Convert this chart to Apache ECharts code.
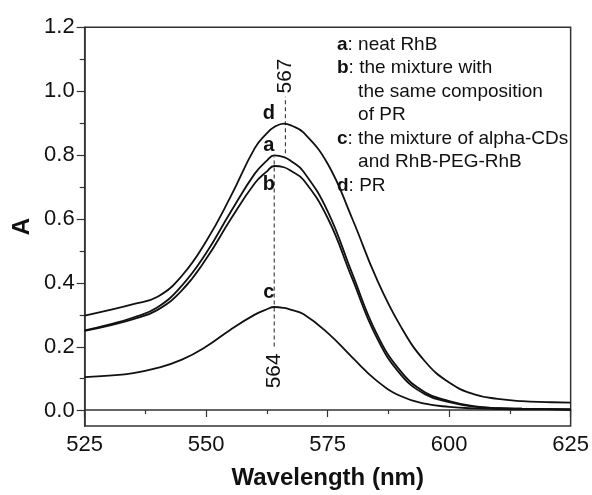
<!DOCTYPE html>
<html><head><meta charset="utf-8">
<script src="https://cdn.jsdelivr.net/npm/echarts@6/dist/echarts.min.js"></script>
<style>html,body{margin:0;padding:0;background:#fff}#c{width:592px;height:495px}</style>
</head><body><div id="c"></div>
<script>
// wavelength (nm)
const wavelengths = [525,530,535,540,545,550,555,560,562.5,564,566,567.5,570,575,580,585,590,595,600,605,610,615,620,625];
// a: neat RhB
const seriesA = [0.250,0.268,0.290,0.322,0.390,0.492,0.620,0.741,0.782,0.798,0.793,0.780,0.748,0.623,0.430,0.242,0.122,0.056,0.028,0.012,0.006,0.004,0.003,0.002];
// b: the mixture with the same composition of PR
const seriesB = [0.248,0.265,0.285,0.314,0.375,0.474,0.597,0.711,0.748,0.765,0.761,0.749,0.722,0.602,0.414,0.230,0.112,0.050,0.025,0.011,0.006,0.004,0.003,0.002];
// c: the mixture of alpha-CDs and RhB-PEG-RhB
const seriesC = [0.103,0.108,0.116,0.132,0.158,0.199,0.252,0.299,0.316,0.323,0.320,0.314,0.301,0.242,0.166,0.093,0.044,0.020,0.010,0.005,0.003,0.002,0.002,0.001];
// d: PR
const seriesD = [0.296,0.313,0.332,0.355,0.421,0.529,0.668,0.821,0.868,0.887,0.898,0.892,0.870,0.772,0.602,0.414,0.263,0.153,0.086,0.050,0.035,0.028,0.025,0.023];

// curve letters [label, wavelength, absorbance]
const curveLetters = [['d',562.9,0.931],['a',562.9,0.828],['b',562.9,0.706],['c',562.9,0.368]];
// peak marker lines [wavelength, from, to] and their labels [text, wavelength, absorbance]
const peakLines = [[564,0.199,0.794],[566.3,0.805,0.982]];
const peakLabels = [['564',564,0.123],['567',566.3,1.047]];

const xTicks = {min:525,max:625,interval:25};
const yTicks = {min:0,max:1.2,interval:0.2};
const yFrameMin = -0.05;

const legendLines = [
  ['a','neat RhB'],
  ['b','the mixture with'],
  [null,'the same composition'],
  [null,'of PR'],
  ['c','the mixture of alpha-CDs'],
  [null,'and RhB-PEG-RhB'],
  ['d','PR']
];

const FONT = '"Liberation Sans", Arial, Helvetica, sans-serif';
const INK = '#111';
const AX = '#333';

const legendText = legendLines.map(l => l[0] ? '{b|' + l[0] + '}: ' + l[1] : '    ' + l[1]).join('\n');

function curve(name, vals) {
  return {
    name, type: 'line', xAxisIndex: 1, yAxisIndex: 1,
    data: wavelengths.map((w, i) => [w, vals[i]]),
    showSymbol: false, symbol: 'none', smooth: 0.45,
    lineStyle: {color: INK, width: 1.8}, silent: true, z: 3
  };
}

const series = [
  curve('a', seriesA), curve('b', seriesB), curve('c', seriesC), curve('d', seriesD)
];
peakLines.forEach(p => {
  series.push({
    type: 'line', xAxisIndex: 1, yAxisIndex: 1,
    data: [[p[0], p[1]], [p[0], p[2]]],
    symbol: 'none', lineStyle: {color: '#333', width: 1.1, type: [4, 3]}, silent: true, z: 2
  });
});
series.push({
  type: 'scatter', xAxisIndex: 1, yAxisIndex: 1, symbolSize: 0, silent: true, z: 4,
  itemStyle: {opacity: 1},
  data: curveLetters.map(c => ({value: [c[1], c[2]], name: c[0]})),
  label: {show: true, position: 'inside', formatter: p => p.name, fontFamily: FONT,
    fontSize: 20, fontWeight: 'bold', color: INK, textBorderWidth: 0, opacity: 1}
});
series.push({
  type: 'scatter', xAxisIndex: 1, yAxisIndex: 1, symbolSize: 0, silent: true, z: 4,
  itemStyle: {opacity: 1},
  data: peakLabels.map(c => ({value: [c[1], c[2]], name: c[0]})),
  label: {show: true, position: 'inside', rotate: 90, formatter: p => p.name, fontFamily: FONT,
    fontSize: 21, color: INK, textBorderWidth: 0, opacity: 1}
});

const chart = echarts.init(document.getElementById('c'), null, {renderer: 'canvas'});
chart.setOption({
  animation: false,
  backgroundColor: '#fff',
  title: {
    left: 332, top: 28, padding: 5,
    text: legendText,
    textStyle: {fontFamily: FONT, fontSize: 19, fontWeight: 'normal', color: INK, lineHeight: 23.5,
      rich: {b: {fontFamily: FONT, fontSize: 19, fontWeight: 'bold', color: INK, lineHeight: 23.5}}}
  },
  grid: [
    {left: 84.7, right: 21.3, top: 27.2, bottom: 84.3, show: false},
    {left: 84.7, right: 21.3, top: 27.2, bottom: 68.3, show: true, borderColor: AX, borderWidth: 1.5, backgroundColor: 'transparent'}
  ],
  xAxis: [
    {type: 'value', gridIndex: 0, min: xTicks.min, max: xTicks.max, show: false},
    {type: 'value', gridIndex: 1, min: xTicks.min, max: xTicks.max, interval: xTicks.interval,
      axisLine: {show: true, lineStyle: {color: AX, width: 1.5}},
      axisTick: {show: true, inside: false, length: 7, lineStyle: {color: AX, width: 1.2}},
      minorTick: {show: true, splitNumber: 2, length: 4, lineStyle: {color: AX, width: 1.2}},
      splitLine: {show: false},
      axisLabel: {fontFamily: FONT, fontSize: 22, color: INK, margin: 8},
      name: 'Wavelength (nm)', nameLocation: 'middle', nameGap: 40,
      nameTextStyle: {fontFamily: FONT, fontSize: 24, fontWeight: 'bold', color: INK}
    }
  ],
  yAxis: [
    {type: 'value', gridIndex: 0, min: yTicks.min, max: yTicks.max, interval: yTicks.interval,
      axisLine: {show: false},
      axisTick: {show: true, inside: false, length: 8, lineStyle: {color: AX, width: 1.2}},
      minorTick: {show: true, splitNumber: 2, length: 5, lineStyle: {color: AX, width: 1.2}},
      splitLine: {show: false},
      axisLabel: {fontFamily: FONT, fontSize: 22, color: INK, margin: 10, formatter: v => v.toFixed(1)}
    },
    {type: 'value', gridIndex: 1, min: yFrameMin, max: yTicks.max,
      axisLine: {show: true, lineStyle: {color: AX, width: 1.5}},
      axisTick: {show: false}, minorTick: {show: false}, axisLabel: {show: false}, splitLine: {show: false},
      name: 'A', nameLocation: 'middle', nameGap: 50, nameRotate: 90,
      nameTextStyle: {fontFamily: FONT, fontSize: 24, fontWeight: 'bold', color: INK}
    }
  ],
  series
});
</script>
</body></html>
